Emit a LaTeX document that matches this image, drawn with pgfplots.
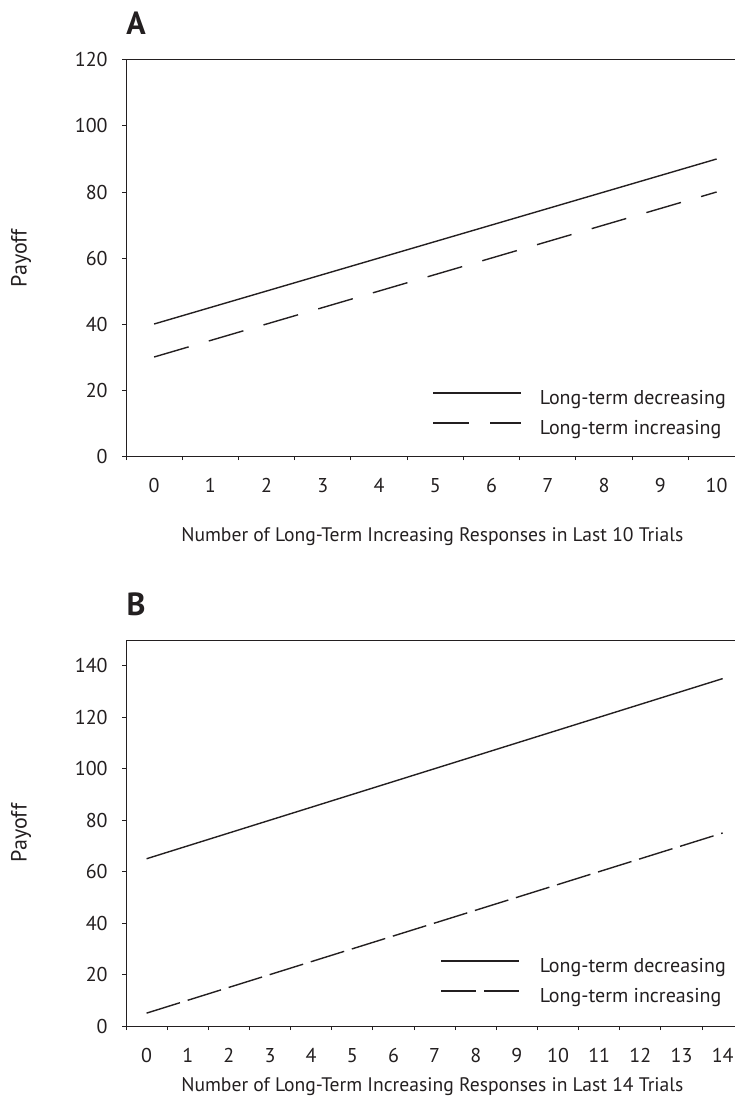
\documentclass[border=0pt]{standalone}
\usepackage{fontspec}
\setmainfont{PT Sans}
\usepackage{pgfplots}
\pgfplotsset{compat=1.18}
\definecolor{ink}{HTML}{231F20}
\begin{document}
\begin{tikzpicture}
\useasboundingbox (0,0) rectangle (367.5pt,-550.5pt);
\pgfplotsset{
  panel/.style={
    scale only axis, width=304.5pt,
    axis x line=box, axis y line=left,
    xtick pos=left, ytick pos=left,
    axis line style={ink, line width=0.5pt, -},
    tick align=outside, major tick length=2pt,
    tick style={ink, line width=0.5pt},
    xmin=-0.5, ymin=0,
    /pgf/number format/assume math mode=true,
    tick label style={text=ink, font=\fontsize{10}{12}\selectfont},
    xticklabel style={anchor=base, yshift=-16pt},
    yticklabel style={anchor=east, inner sep=0pt, xshift=-7pt},
    ylabel={Payoff},
    every axis y label/.style={at={(rel axis cs:-0.1724,0.5)}, rotate=90, anchor=center, text=ink, font=\fontsize{11}{13}\selectfont},
    every axis title/.style={at={(rel axis cs:0.0164,1.0934)}, anchor=center, text=ink, font=\fontsize{16}{19}\selectfont\bfseries},
    legend cell align=left,
    legend style={draw=none, fill=none, inner sep=0pt, text=ink, font=\fontsize{10}{12}\selectfont,
      nodes={inner sep=0pt, text height=7.5pt, text depth=2.5pt}, row sep=5pt},
  }
}
\begin{axis}[panel,
  at={(63pt,-228pt)}, anchor=south west, height=198pt,
  xmax=10.327, ymax=120, ytick={0,20,...,120},
  xtick={-0.5,0.5,...,9.5}, xticklabels={0,1,2,3,4,5,6,7,8,9,10},
  xticklabel style={xshift=14.06pt},
  title={A},
  xlabel={Number of Long-Term Increasing Responses in Last 10 Trials},
  every axis x label/.style={at={(rel axis cs:0.503,-0.2164)}, anchor=base, text=ink, font=\fontsize{9.8}{12}\selectfont},
  legend style={at={(rel axis cs:0.5025,0.106)}, anchor=west, column sep=9pt},
  legend image code/.code={\draw[#1] (0pt,3pt) -- (44pt,3pt);},
]
\addplot[ink, line width=0.7pt] coordinates {(0,40)(1,45)(2,50)(3,55)(4,60)(5,65)(6,70)(7,75)(8,80)(9,85)(10,90)};
\addlegendentry{Long-term decreasing}
\addplot[ink, line width=0.7pt, dash pattern=on 18pt off 10.5pt] coordinates {(0,30)(1,35)(2,40)(3,45)(4,50)(5,55)(6,60)(7,65)(8,70)(9,75)(10,80)};
\addlegendentry{Long-term increasing}
\end{axis}
\begin{axis}[panel,
  at={(63pt,-513pt)}, anchor=south west, height=193pt,
  xmax=14.30, ymax=150, ytick={0,20,...,140},
  xtick={-0.5,0.5,...,13.5}, xticklabels={0,1,2,3,4,5,6,7,8,9,10,11,12,13,14},
  xticklabel style={xshift=10.29pt},
  title={B},
  xlabel={Number of Long-Term Increasing Responses in Last 14 Trials},
  every axis x label/.style={at={(rel axis cs:0.503,-0.1702)}, anchor=base, text=ink, font=\fontsize{9.8}{12}\selectfont},
  legend style={at={(rel axis cs:0.5156,0.114)}, anchor=west, column sep=10pt},
  legend image code/.code={\draw[#1] (0pt,3pt) -- (39pt,3pt);},
]
\addplot[ink, line width=0.7pt] coordinates {(0,65)(1,70)(2,75)(3,80)(4,85)(5,90)(6,95)(7,100)(8,105)(9,110)(10,115)(11,120)(12,125)(13,130)(14,135)};
\addlegendentry{Long-term decreasing}
\addplot[ink, line width=0.7pt, dash pattern=on 17.5pt off 4pt] coordinates {(0,5)(1,10)(2,15)(3,20)(4,25)(5,30)(6,35)(7,40)(8,45)(9,50)(10,55)(11,60)(12,65)(13,70)(14,75)};
\addlegendentry{Long-term increasing}
\end{axis}
\end{tikzpicture}
\end{document}
